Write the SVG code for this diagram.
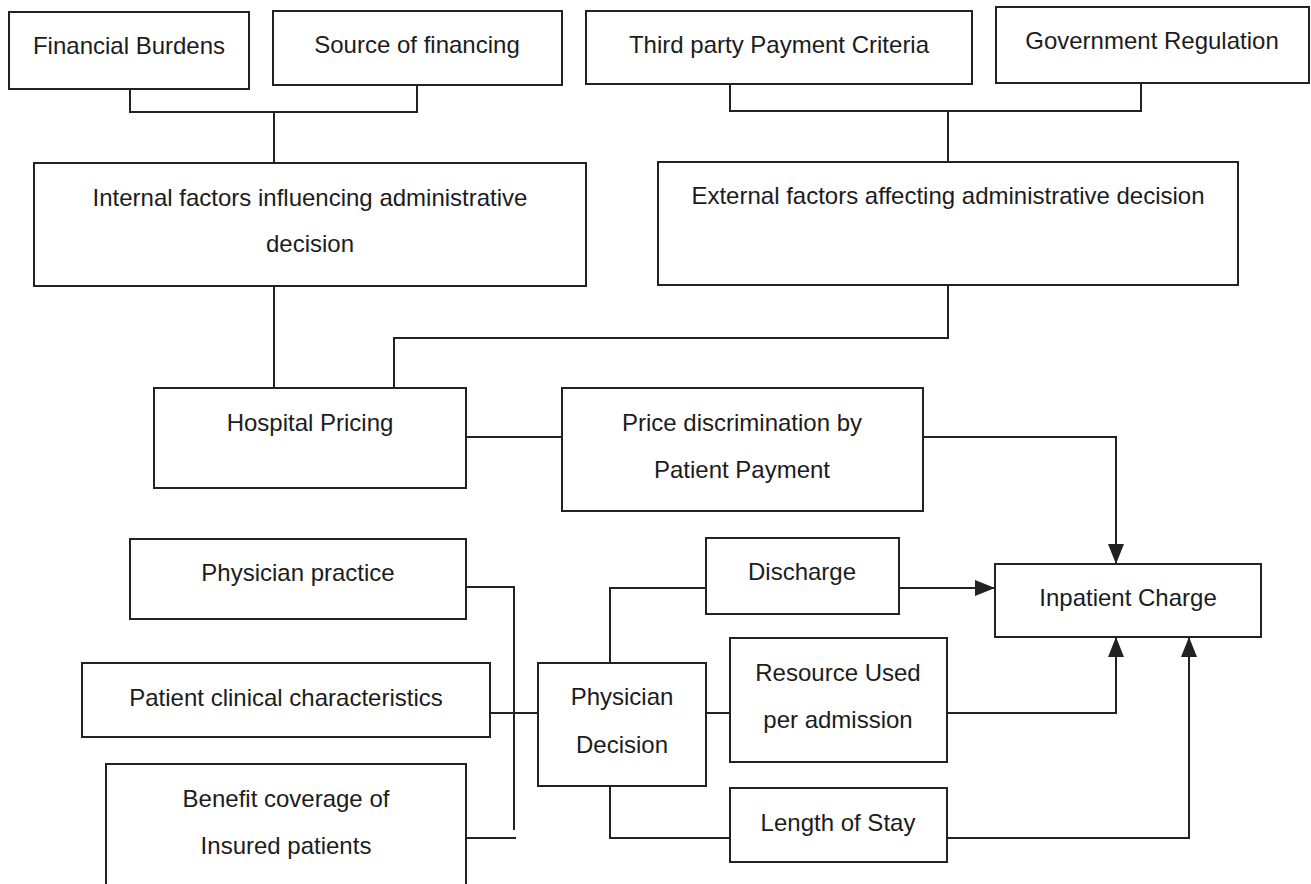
<svg xmlns="http://www.w3.org/2000/svg" width="1311" height="884" viewBox="0 0 1311 884">
<style>
.box{fill:#fff;stroke:#222;stroke-width:2}
.t{font-family:"Liberation Sans",Arial,sans-serif;font-size:24px;fill:#1c1c1c;text-anchor:middle}
.c{fill:none;stroke:#222;stroke-width:2}
</style>
<defs>
<marker id="ah" viewBox="0 0 20 16" refX="20" refY="8" markerWidth="20" markerHeight="16" markerUnits="userSpaceOnUse" orient="auto">
<path d="M0,0 L20,8 L0,16 z" fill="#222"/>
</marker>
</defs>
<rect width="1311" height="884" fill="#fff"/>
<g id="connectors">
<polyline class="c" points="130,89 130,112 417,112 417,85"/>
<line class="c" x1="274" y1="112" x2="274" y2="163"/>
<polyline class="c" points="730,84 730,111 1141,111 1141,83"/>
<line class="c" x1="948" y1="111" x2="948" y2="162"/>
<line class="c" x1="274" y1="286" x2="274" y2="388"/>
<polyline class="c" points="948,285 948,338 394,338 394,388"/>
<line class="c" x1="466" y1="437" x2="562" y2="437"/>
<polyline class="c" points="923,437 1116,437 1116,564" marker-end="url(#ah)"/>
<polyline class="c" points="466,587 514,587 514,830"/>
<line class="c" x1="466" y1="838" x2="516" y2="838"/>
<line class="c" x1="490" y1="713" x2="538" y2="713"/>
<polyline class="c" points="610,663 610,588 706,588"/>
<line class="c" x1="899" y1="588" x2="995" y2="588" marker-end="url(#ah)"/>
<line class="c" x1="706" y1="713" x2="730" y2="713"/>
<polyline class="c" points="947,713 1116,713 1116,637" marker-end="url(#ah)"/>
<polyline class="c" points="610,786 610,838 730,838"/>
<polyline class="c" points="947,838 1189,838 1189,637" marker-end="url(#ah)"/>
</g>
<g id="financial-burdens"><rect class="box" x="9" y="12" width="240" height="77"/><text class="t" x="129" y="54">Financial Burdens</text></g>
<g id="source-of-financing"><rect class="box" x="273" y="11" width="289" height="74"/><text class="t" x="417" y="53">Source of financing</text></g>
<g id="third-party"><rect class="box" x="586" y="11" width="386" height="73"/><text class="t" x="779" y="53">Third party Payment Criteria</text></g>
<g id="government-regulation"><rect class="box" x="996" y="7" width="313" height="76"/><text class="t" x="1152" y="49">Government Regulation</text></g>
<g id="internal-factors"><rect class="box" x="34" y="163" width="552" height="123"/><text class="t" x="310" y="206">Internal factors influencing administrative</text><text class="t" x="310" y="252">decision</text></g>
<g id="external-factors"><rect class="box" x="658" y="162" width="580" height="123"/><text class="t" x="948" y="204">External factors affecting administrative decision</text></g>
<g id="hospital-pricing"><rect class="box" x="154" y="388" width="312" height="100"/><text class="t" x="310" y="431">Hospital Pricing</text></g>
<g id="price-discrimination"><rect class="box" x="562" y="388" width="361" height="123"/><text class="t" x="742" y="431">Price discrimination by</text><text class="t" x="742" y="478">Patient Payment</text></g>
<g id="physician-practice"><rect class="box" x="130" y="539" width="336" height="80"/><text class="t" x="298" y="581">Physician practice</text></g>
<g id="discharge"><rect class="box" x="706" y="538" width="193" height="76"/><text class="t" x="802" y="580">Discharge</text></g>
<g id="inpatient-charge"><rect class="box" x="995" y="564" width="266" height="73"/><text class="t" x="1128" y="606">Inpatient Charge</text></g>
<g id="patient-clinical"><rect class="box" x="82" y="663" width="408" height="74"/><text class="t" x="286" y="706">Patient clinical characteristics</text></g>
<g id="physician-decision"><rect class="box" x="538" y="663" width="168" height="123"/><text class="t" x="622" y="705">Physician</text><text class="t" x="622" y="753">Decision</text></g>
<g id="resource-used"><rect class="box" x="730" y="638" width="217" height="124"/><text class="t" x="838" y="681">Resource Used</text><text class="t" x="838" y="728">per admission</text></g>
<g id="benefit-coverage"><rect class="box" x="106" y="764" width="360" height="140"/><text class="t" x="286" y="807">Benefit coverage of</text><text class="t" x="286" y="854">Insured patients</text></g>
<g id="length-of-stay"><rect class="box" x="730" y="788" width="217" height="74"/><text class="t" x="838" y="831">Length of Stay</text></g>
</svg>
